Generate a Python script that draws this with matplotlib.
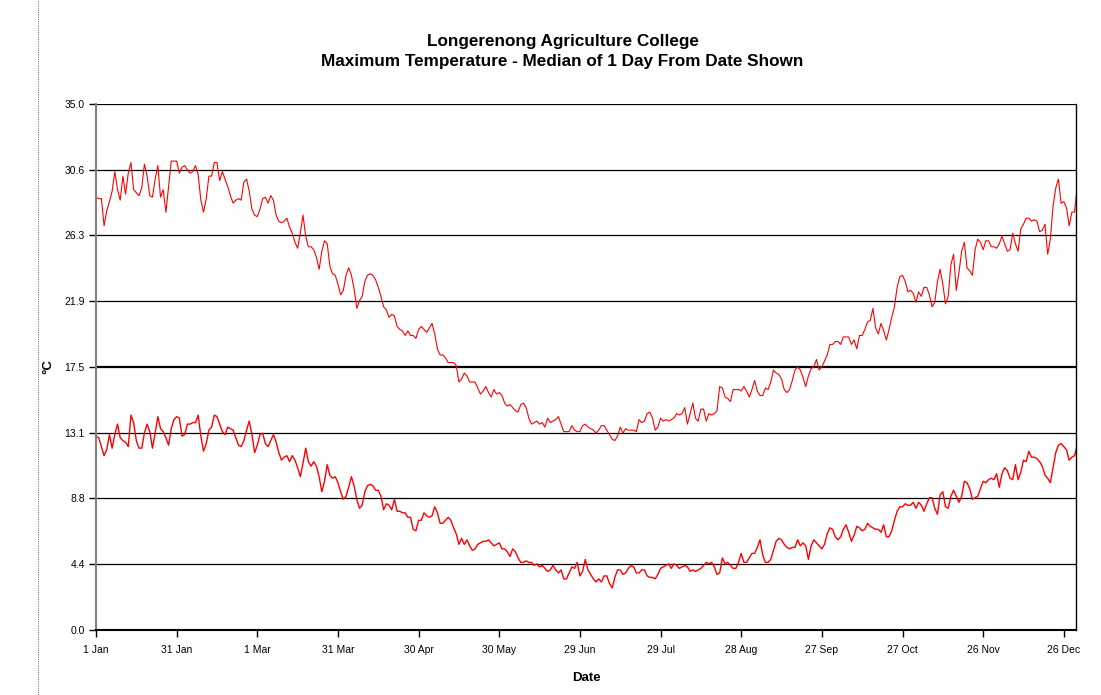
import numpy as np
import matplotlib
matplotlib.use("Agg")
import matplotlib.pyplot as plt
from matplotlib.lines import Line2D

plt.rcParams['font.family'] = ['Liberation Sans', 'DejaVu Sans']

# daily values, 1 Jan onwards (deg C)
upper_series = [
    28.8, 28.7, 28.7, 26.9, 27.9, 28.5, 29.2, 30.5, 29.3, 28.6, 30.2, 29.0, 30.4, 31.1, 29.3, 29.1,
    28.9, 29.4, 31.0, 30.2, 28.9, 28.8, 30.0, 30.9, 28.8, 29.3, 27.8, 29.5, 31.2, 31.2, 31.2, 30.4,
    30.8, 30.9, 30.6, 30.4, 30.5, 30.9, 30.3, 28.6, 27.8, 28.7, 30.2, 30.2, 31.1, 31.1, 29.9,
    30.5, 30.0, 29.5, 28.9, 28.4, 28.6, 28.7, 28.6, 29.8, 30.0, 29.2, 28.0, 27.6, 27.5, 28.0, 28.7,
    28.8, 28.4, 28.9, 28.6, 27.6, 27.2, 27.1, 27.2, 27.4, 26.8, 26.4, 25.8, 25.4, 26.4, 27.6, 26.2,
    25.5, 25.5, 25.3, 24.8, 24.0, 25.2, 25.9, 25.7, 24.2, 23.7, 23.6, 23.0, 22.3, 22.6, 23.6,
    24.1, 23.6, 22.7, 21.4, 21.9, 22.2, 23.2, 23.6, 23.7, 23.6, 23.3, 22.8, 22.2, 21.5, 21.3, 20.8,
    21.0, 20.9, 20.2, 20.0, 19.9, 19.6, 19.9, 19.6, 19.6, 19.4, 20.0, 20.2, 20.0, 19.8, 20.1, 20.4,
    19.7, 18.7, 18.3, 18.3, 18.1, 17.8, 17.8, 17.8, 17.6, 16.5, 16.7, 17.1, 16.9, 16.5,
    16.5, 16.5, 16.1, 15.7, 15.9, 16.2, 15.8, 15.5, 16.0, 15.7, 15.8, 15.6, 15.1, 14.9, 15.0, 14.8,
    14.6, 14.5, 15.0, 15.1, 14.8, 14.1, 13.7, 13.8, 13.9, 13.7, 13.8, 13.5, 14.1, 13.8, 13.9, 14.0,
    14.2, 13.7, 13.2, 13.2, 13.2, 13.6, 13.3, 13.2, 13.2, 13.6, 13.7, 13.5, 13.4, 13.3, 13.1,
    13.3, 13.6, 13.6, 13.3, 13.0, 12.7, 12.6, 12.9, 13.5, 13.1, 13.4, 13.3, 13.3, 13.3, 13.2, 14.0,
    13.8, 13.9, 14.4, 14.5, 14.1, 13.3, 13.5, 14.1, 13.9, 14.0, 13.9, 14.0, 14.1, 14.4, 14.3, 14.4,
    14.8, 13.7, 14.4, 15.1, 14.1, 13.9, 14.7, 14.7, 13.9, 14.4, 14.3, 14.4, 14.6, 16.2, 16.1,
    15.5, 15.4, 15.2, 16.0, 16.0, 16.0, 15.9, 16.2, 15.9, 15.5, 16.0, 16.6, 15.9, 15.6, 15.6, 16.1,
    16.0, 16.5, 17.3, 17.1, 17.0, 16.7, 16.0, 15.8, 16.0, 16.6, 17.3, 17.5, 17.3, 16.8, 16.2, 16.9,
    17.4, 17.5, 18.0, 17.3, 17.5, 17.9, 18.3, 19.0, 19.0, 19.2, 19.2, 19.0, 19.5, 19.5,
    19.5, 19.0, 19.3, 18.7, 19.6, 19.6, 20.0, 20.5, 20.6, 21.4, 20.1, 19.7, 20.4, 19.9, 19.3, 20.0,
    20.8, 21.5, 22.8, 23.5, 23.6, 23.2, 22.5, 22.6, 22.4, 21.8, 22.5, 22.2, 22.8, 22.8, 22.3, 21.5,
    21.8, 23.2, 24.0, 23.0, 21.7, 22.2, 24.3, 25.0, 22.6, 23.8, 25.2, 25.8, 24.1, 23.9, 23.6,
    25.3, 26.0, 25.8, 25.3, 25.9, 25.9, 25.5, 25.5, 25.4, 25.7, 26.2, 25.7, 25.2, 25.3, 26.4, 25.7,
    25.2, 26.7, 27.0, 27.4, 27.4, 27.2, 27.3, 27.2, 26.5, 26.6, 27.0, 25.0, 26.0, 28.2, 29.4, 30.0,
    28.4, 28.5, 28.1, 26.9, 27.8, 27.8, 29.5,
]

lower_series = [
    12.9, 12.8, 12.2, 11.6, 12.0, 13.0, 12.1, 13.0, 13.7, 12.8, 12.6, 12.5, 12.2, 14.3, 13.8, 12.6,
    12.1, 12.1, 13.1, 13.7, 13.2, 12.1, 13.1, 14.2, 13.4, 13.2, 12.8, 12.3, 13.4, 14.0, 14.2, 14.1,
    12.9, 13.0, 13.7, 13.7, 13.8, 13.8, 14.3, 12.9, 11.9, 12.4, 13.3, 13.5, 14.3, 14.2, 13.7,
    13.2, 13.0, 13.5, 13.4, 13.3, 12.8, 12.3, 12.2, 12.6, 13.3, 13.9, 13.0, 11.8, 12.3, 13.0, 13.1,
    12.4, 12.2, 12.6, 13.0, 12.5, 11.8, 11.3, 11.5, 11.6, 11.2, 11.6, 11.3, 10.8, 10.2, 11.1, 12.1,
    11.2, 10.9, 11.2, 10.9, 10.2, 9.2, 9.9, 11.0, 10.3, 10.1, 10.2, 9.8, 9.2, 8.7, 8.9,
    9.5, 10.2, 9.6, 8.7, 8.1, 8.3, 9.2, 9.6, 9.7, 9.6, 9.3, 9.3, 8.9, 8.0, 8.4, 8.3,
    8.0, 8.7, 7.9, 7.9, 7.8, 7.8, 7.5, 7.5, 6.7, 6.6, 7.3, 7.3, 7.8, 7.6, 7.5, 7.6,
    8.2, 7.8, 7.1, 7.1, 7.3, 7.5, 7.3, 6.8, 6.4, 5.7, 6.1, 5.7, 6.0, 5.6,
    5.3, 5.4, 5.7, 5.8, 5.9, 5.9, 6.0, 5.8, 5.6, 5.7, 5.8, 5.4, 5.4, 5.2, 4.9, 5.4,
    5.2, 4.8, 4.5, 4.5, 4.6, 4.5, 4.5, 4.3, 4.4, 4.2, 4.3, 4.1, 3.9, 4.0, 4.3, 4.0,
    3.8, 4.0, 3.4, 3.4, 3.8, 4.2, 4.1, 4.5, 3.6, 3.9, 4.7, 4.0, 3.7, 3.4, 3.2,
    3.4, 3.2, 3.6, 3.6, 3.1, 2.8, 3.5, 4.0, 4.0, 3.7, 3.8, 4.1, 4.3, 4.2, 3.8, 3.8,
    4.0, 4.0, 3.6, 3.5, 3.5, 3.4, 3.7, 4.1, 4.2, 4.3, 4.4, 4.1, 4.4, 4.3, 4.1, 4.2,
    4.3, 4.2, 3.9, 4.0, 3.9, 4.0, 4.1, 4.3, 4.5, 4.4, 4.5, 4.2, 3.7, 3.8, 4.8,
    4.4, 4.5, 4.3, 4.1, 4.1, 4.5, 5.1, 4.5, 4.5, 4.8, 5.1, 5.1, 5.5, 6.0, 5.0, 4.5,
    4.5, 4.7, 5.3, 5.9, 6.1, 6.0, 5.7, 5.5, 5.4, 5.5, 5.5, 6.0, 5.6, 5.8, 5.6, 4.7,
    5.6, 6.0, 5.8, 5.6, 5.4, 5.7, 6.4, 6.8, 6.7, 6.2, 6.0, 6.2, 6.7, 7.0,
    6.5, 5.9, 6.3, 6.9, 6.8, 6.6, 6.7, 7.1, 6.9, 6.8, 6.7, 6.7, 6.5, 7.0, 6.2, 6.2,
    6.6, 7.3, 7.9, 8.2, 8.2, 8.4, 8.3, 8.3, 8.5, 8.1, 8.5, 8.3, 7.9, 8.4, 8.8, 8.8,
    8.1, 7.7, 9.0, 9.2, 8.2, 8.1, 8.9, 9.3, 8.9, 8.5, 8.9, 9.9, 9.8, 9.4, 8.7,
    8.8, 8.9, 9.4, 9.9, 9.8, 10.0, 10.1, 10.0, 10.4, 9.5, 10.4, 10.8, 10.6, 10.1, 10.0, 11.0,
    10.0, 10.5, 11.3, 11.2, 11.9, 11.5, 11.5, 11.4, 11.2, 10.9, 10.3, 10.1, 9.8, 10.8, 11.8, 12.3,
    12.4, 12.2, 12.0, 11.3, 11.5, 11.6, 12.3,
]

y_ticks = [0.0, 4.4, 8.8, 13.1, 17.5, 21.9, 26.3, 30.6, 35.0]
x_tick_days = [0, 30, 60, 90, 120, 150, 180, 210, 240, 270, 300, 330, 360]
x_tick_labels = ['1 Jan', '31 Jan', '1 Mar', '31 Mar', '30 Apr', '30 May', '29 Jun',
                 '29 Jul', '28 Aug', '27 Sep', '27 Oct', '26 Nov', '26 Dec']

fig = plt.figure(figsize=(11.01, 6.95), dpi=100)
ax = fig.add_axes([0.0872, 0.0935, 0.890, 0.7569])

ax.plot(np.arange(len(upper_series)), upper_series, color='#ff0000', linewidth=0.8)
ax.plot(np.arange(len(lower_series)), lower_series, color='#ff0000', linewidth=1.0)

# horizontal gridlines (the 17.5 one is heavier in the original)
for yv in y_ticks[1:]:
    lw = 1.6 if yv == 17.5 else 0.9
    ax.axhline(yv, color='#000000', linewidth=lw, zorder=0)

ax.set_xlim(0, 364.5)
ax.set_ylim(0, 35)
ax.set_yticks(y_ticks)
ax.set_yticklabels([f"{v:.1f}" for v in y_ticks], fontsize=7.5)
ax.set_xticks(x_tick_days)
ax.set_xticklabels(x_tick_labels, fontsize=7.5)
ax.tick_params(axis='both', direction='out', length=5, width=1, color='#000000')
ax.tick_params(axis='y', pad=3)
ax.tick_params(axis='x', pad=6)

ax.spines['top'].set_visible(False)
ax.spines['left'].set_color('#808080')
ax.spines['left'].set_linewidth(1.5)
ax.spines['bottom'].set_linewidth(1.5)
ax.spines['right'].set_linewidth(1.0)

ax.set_xlabel('Date', fontsize=9.5, fontweight='bold', labelpad=12)
ax.set_ylabel('°C', fontsize=9.5, fontweight='bold', labelpad=7)

fig.text(0.511, 0.941, 'Longerenong Agriculture College', ha='center', va='center',
         fontsize=12.3, fontweight='bold')
fig.text(0.511, 0.912, 'Maximum Temperature - Median of 1 Day From Date Shown', ha='center',
         va='center', fontsize=12.3, fontweight='bold')

# dotted page border on the left
fig.add_artist(Line2D([38 / 1101, 38 / 1101], [0, 1], color='#808080', linewidth=0.8,
                      linestyle=(0, (1, 1))))

fig.savefig('out.png', dpi=100)
